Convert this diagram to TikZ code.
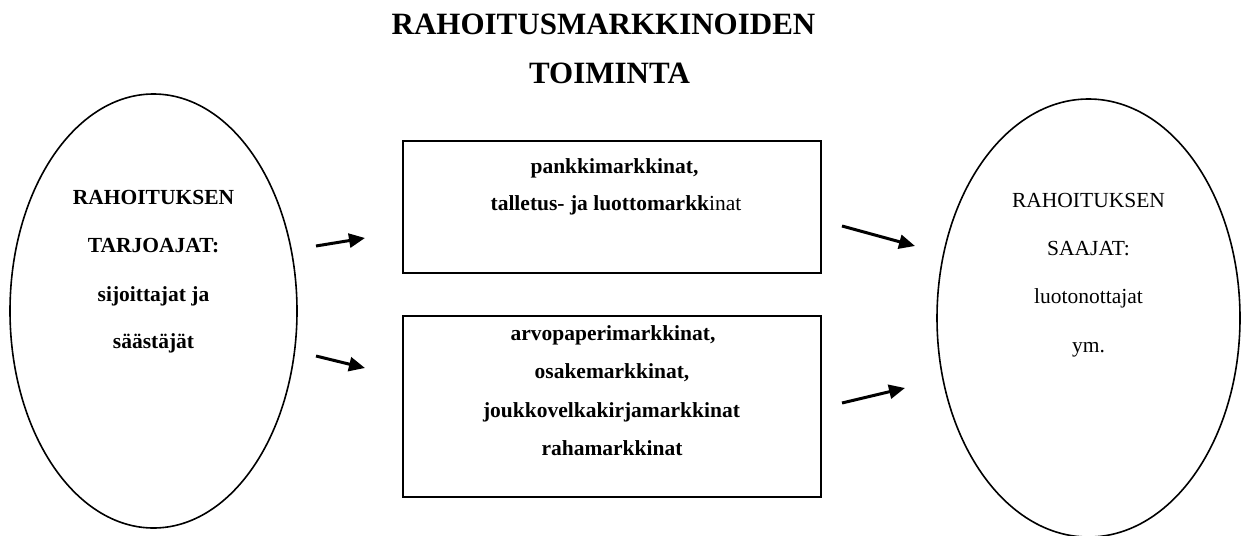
\documentclass[tikz,border=0pt]{standalone}
\usepackage{fontspec}
\setmainfont{Liberation Serif}
\usetikzlibrary{arrows.meta,shapes.geometric}
\begin{document}
\begin{tikzpicture}[x=1pt,y=-1pt,
  oval/.style={draw,ellipse,line width=1.6pt,inner sep=0pt,minimum width=#1},
  market/.style={draw,rectangle,line width=2pt,inner sep=0pt,minimum width=418pt},
  txt/.style={inner sep=0pt,anchor=base,font=\fontsize{21.5pt}{25pt}\selectfont},
  btxt/.style={txt,font=\fontsize{21.5pt}{25pt}\selectfont\bfseries},
  ttl/.style={inner sep=0pt,anchor=base,font=\fontsize{31pt}{36pt}\selectfont\bfseries},
  flow/.style={line width=3pt,-{Triangle[length=16pt,width=14pt]}}
]
\useasboundingbox (0,0) rectangle (1241,535);

% title
\node[ttl] (t1) at (603.5,35) {RAHOITUSMARKKINOIDEN};
\node[ttl] (t2) at (609.5,83) {TOIMINTA};

% ellipses
\node[oval=287pt,minimum height=434pt] (supply) at (153.5,311) {};
\node[oval=303pt,minimum height=438pt] (demand) at (1088.5,318) {};

% boxes
\node[market,minimum height=132pt] (bank) at (612,207) {};
\node[market,minimum height=181pt] (sec) at (612,406.5) {};

% left ellipse text
\node[btxt] (s1) at (153.5,204) {RAHOITUKSEN};
\node[btxt] (s2) at (153.5,252) {TARJOAJAT:};
\node[btxt] (s3) at (153.5,301.5) {sijoittajat ja};
\node[btxt] (s4) at (153.5,348) {säästäjät};

% right ellipse text
\node[txt] (d1) at (1088.5,207) {RAHOITUKSEN};
\node[txt] (d2) at (1088.5,255) {SAAJAT:};
\node[txt] (d3) at (1088.5,303) {luotonottajat};
\node[txt] (d4) at (1088.5,352) {ym.};

% box 1 text
\node[btxt] (b1) at (614.5,173) {pankkimarkkinat,};
\node[txt] (b2) at (616,210) {\textbf{talletus- ja luottomarkk}inat};

% box 2 text
\node[btxt] (c1) at (613,340) {arvopaperimarkkinat,};
\node[btxt] (c2) at (612,378) {osakemarkkinat,};
\node[btxt] (c3) at (611.5,417) {joukkovelkakirjamarkkinat};
\node[btxt] (c4) at (612,455) {rahamarkkinat};

% arrows
\coordinate (a1s) at (316,246);
\coordinate (a1e) at (365,238);
\coordinate (a2s) at (842,226);
\coordinate (a2e) at (915,246);
\coordinate (a3s) at (316,356);
\coordinate (a3e) at (365,368);
\coordinate (a4s) at (842,403);
\coordinate (a4e) at (905,388);
\draw[flow] (a1s) -- (a1e);
\draw[flow] (a2s) -- (a2e);
\draw[flow] (a3s) -- (a3e);
\draw[flow] (a4s) -- (a4e);
\end{tikzpicture}
\end{document}
